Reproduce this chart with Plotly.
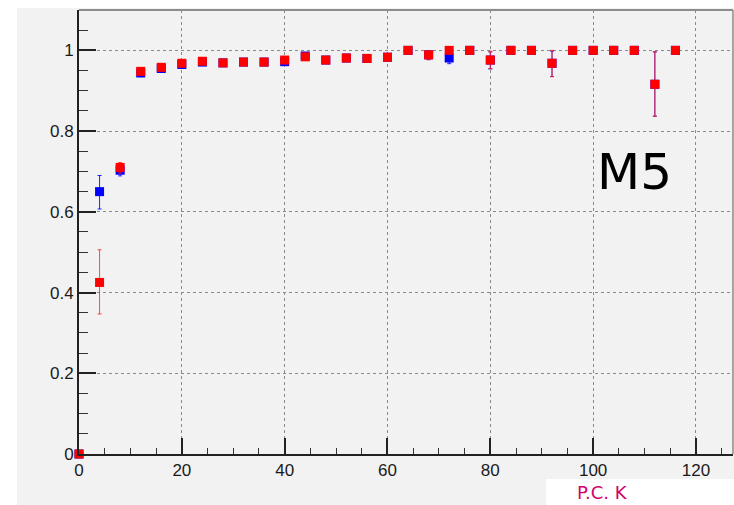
import plotly.graph_objects as go

x_vals = [0, 4, 8, 12, 16, 20, 24, 28, 32, 36, 40, 44, 48, 52, 56, 60,
          64, 68, 72, 76, 80, 84, 88, 92, 96, 100, 104, 108, 112, 116]

blue_eff = [0.0, 0.650, 0.703, 0.944, 0.955, 0.965, 0.971, 0.969, 0.971, 0.971,
            0.972, 0.986, 0.976, 0.981, 0.980, 0.983, 1.0, 0.989, 0.981, 1.0,
            0.976, 1.0, 1.0, 0.968, 1.0, 1.0, 1.0, 1.0, 0.916, 1.0]
blue_err_hi = [0.0, 0.040, 0.012, 0.008, 0.007, 0.006, 0.006, 0.006, 0.006, 0.006,
               0.006, 0.005, 0.006, 0.006, 0.007, 0.007, 0.0, 0.008, 0.010, 0.0,
               0.020, 0.0, 0.0, 0.030, 0.0, 0.0, 0.0, 0.0, 0.080, 0.0]
blue_err_lo = [0.0, 0.043, 0.014, 0.009, 0.008, 0.007, 0.007, 0.007, 0.007, 0.007,
               0.007, 0.006, 0.007, 0.008, 0.008, 0.009, 0.0, 0.012, 0.014, 0.0,
               0.022, 0.0, 0.0, 0.033, 0.0, 0.0, 0.0, 0.0, 0.079, 0.0]

red_eff = [0.0, 0.425, 0.710, 0.948, 0.958, 0.968, 0.973, 0.969, 0.971, 0.971,
           0.976, 0.984, 0.976, 0.981, 0.980, 0.983, 1.0, 0.989, 1.0, 1.0,
           0.976, 1.0, 1.0, 0.968, 1.0, 1.0, 1.0, 1.0, 0.916, 1.0]
red_err_hi = [0.0, 0.081, 0.012, 0.008, 0.007, 0.006, 0.006, 0.006, 0.006, 0.006,
              0.006, 0.005, 0.006, 0.006, 0.007, 0.007, 0.0, 0.008, 0.0, 0.0,
              0.022, 0.0, 0.0, 0.032, 0.0, 0.0, 0.0, 0.0, 0.081, 0.0]
red_err_lo = [0.0, 0.078, 0.014, 0.009, 0.008, 0.007, 0.007, 0.007, 0.007, 0.007,
              0.007, 0.006, 0.007, 0.008, 0.008, 0.009, 0.0, 0.012, 0.0, 0.0,
              0.021, 0.0, 0.0, 0.033, 0.0, 0.0, 0.0, 0.0, 0.079, 0.0]

label_text = "M5"
corner_text = "P.C. K"

fig = go.Figure()
fig.add_trace(go.Scatter(
    x=x_vals, y=blue_eff, mode="markers", cliponaxis=False,
    marker=dict(symbol="square", size=9, color="#0000ff", line=dict(width=0)),
    error_y=dict(type="data", symmetric=False, array=blue_err_hi, arrayminus=blue_err_lo,
                 color="#2020ff", thickness=1, width=2),
    showlegend=False))
fig.add_trace(go.Scatter(
    x=x_vals, y=red_eff, mode="markers", cliponaxis=False,
    marker=dict(symbol="square", size=9, color="#ff0000", line=dict(width=0)),
    error_y=dict(type="data", symmetric=False, array=red_err_hi, arrayminus=red_err_lo,
                 color="rgba(255,30,30,0.8)", thickness=1, width=2),
    showlegend=False))

tickfont = dict(family="Liberation Sans, Arial, sans-serif", size=17, color="#1a1a1a")

fig.update_xaxes(
    domain=[0.10763, 0.99864],
    range=[0, 127.2], dtick=20, tick0=0,
    showgrid=True, gridcolor="#8a8a8a", griddash="dot", gridwidth=1,
    showline=True, linecolor="#222", linewidth=2,
    ticks="inside", ticklen=16, tickwidth=1.5, tickcolor="#222",
    minor=dict(ticks="inside", ticklen=6, dtick=5, tickcolor="#333", tickwidth=1.2, showgrid=False),
    tickfont=tickfont, zeroline=False)
fig.update_yaxes(
    domain=[0.10099, 0.98020],
    range=[0, 1.1], dtick=0.2, tick0=0,
    showgrid=True, gridcolor="#8a8a8a", griddash="dot", gridwidth=1,
    showline=True, linecolor="#222", linewidth=2,
    ticks="inside", ticklen=17, tickwidth=1.5, tickcolor="#222",
    minor=dict(ticks="inside", ticklen=9, dtick=0.05, tickcolor="#333", tickwidth=1.2, showgrid=False),
    tickfont=tickfont, zeroline=False)

shapes = [
    dict(type="rect", xref="paper", yref="paper", x0=0, x1=1, y0=0.9842, y1=1.0,
         fillcolor="#ffffff", line=dict(width=0), layer="above"),
    dict(type="rect", xref="paper", yref="paper", x0=0, x1=0.0232, y0=0, y1=1.0,
         fillcolor="#ffffff", line=dict(width=0), layer="above"),
    dict(type="rect", xref="paper", yref="paper", x0=0.7439, x1=1, y0=0, y1=0.0515,
         fillcolor="#ffffff", line=dict(width=0), layer="above"),
    dict(type="line", xref="paper", yref="paper", x0=0.1076, x1=0.9986, y0=0.9802, y1=0.9802,
         line=dict(color="#8c8c8c", width=2), layer="above"),
    dict(type="line", xref="paper", yref="paper", x0=0.9986, x1=0.9986, y0=0.101, y1=0.9802,
         line=dict(color="#8c8c8c", width=1.5), layer="above"),
]

annotations = [
    dict(text=label_text, xref="paper", yref="paper", x=0.865, y=0.6594,
         xanchor="center", yanchor="middle", showarrow=False,
         font=dict(family="DejaVu Sans, sans-serif", size=50, color="#000000")),
    dict(text=corner_text, xref="paper", yref="paper", x=0.783, y=0.0,
         xanchor="left", yanchor="bottom", showarrow=False,
         font=dict(family="DejaVu Sans, sans-serif", size=18, color="#d4006e")),
]

fig.update_layout(
    template="none",
    width=734, height=505,
    margin=dict(l=0, r=0, t=0, b=0, pad=0),
    paper_bgcolor="#f2f2f2", plot_bgcolor="#f2f2f2",
    shapes=shapes, annotations=annotations,
)

fig.write_html("out.html")
